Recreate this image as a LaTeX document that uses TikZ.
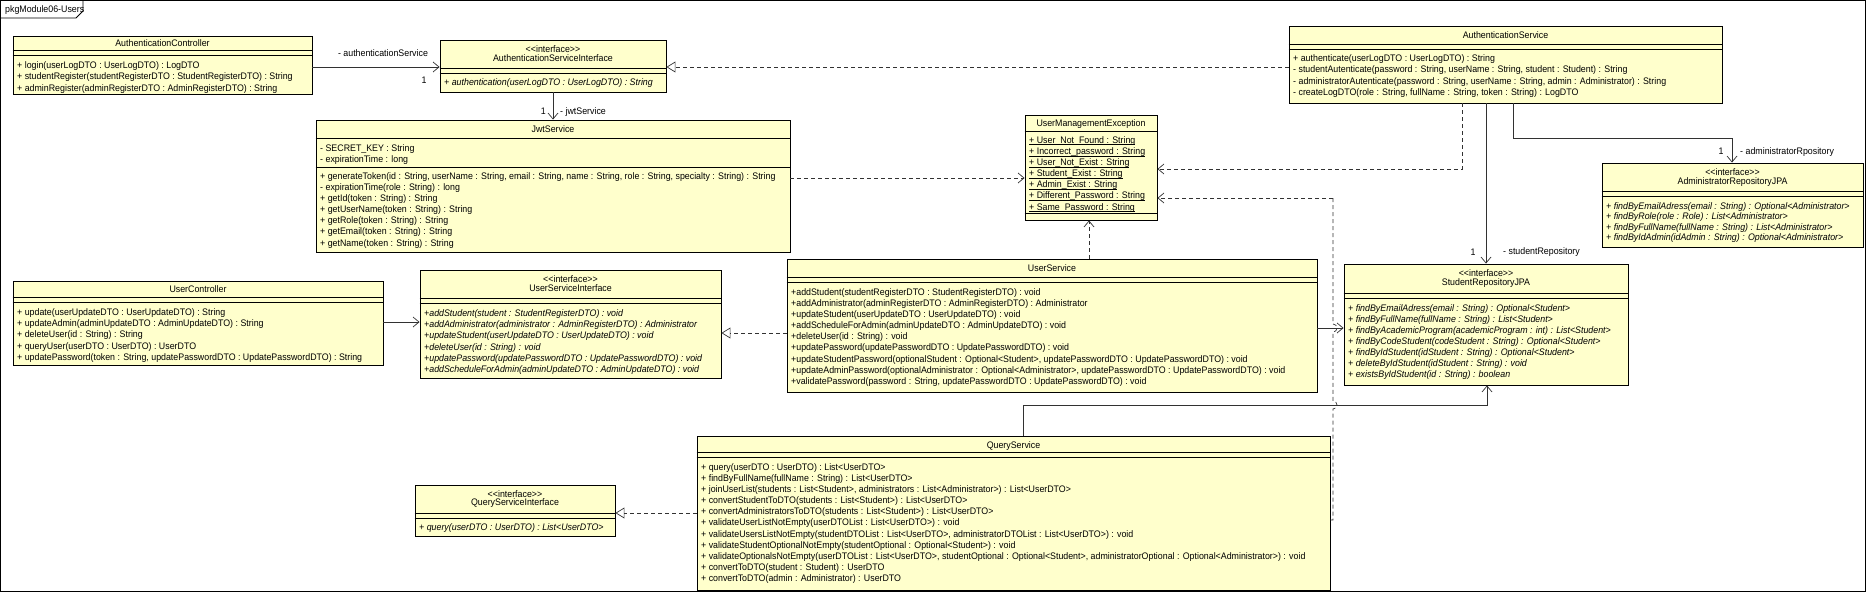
\documentclass[tikz,border=0pt]{standalone}
\usepackage{fontspec}
\setmainfont[FakeStretch=0.93]{Liberation Sans}
\usetikzlibrary{arrows.meta,fit,calc}
\definecolor{umlfill}{RGB}{255,255,204}
\definecolor{linec}{RGB}{50,50,50}
\newcommand{\ufont}{\fontsize{9.5}{11}\selectfont}
\newcommand{\umlcls}[5]{\node[cls, fit={(#2,#3)(#4,#5)}] (#1) {};}
\newcommand{\usep}[2]{\draw[sepl] (#1.west |- 0,#2) -- (#1.east |- 0,#2);}
\newcommand{\uttl}[4]{\node[ttl] (#1#2) at (#1.north |- 0,#3) {#4};}
\newcommand{\umem}[6]{\foreach \t [count=\i from 0] in {#6} {\node[#1] (#2\i) at (#3,{#4+\i*#5}) {\t};}}
\newcommand{\ulin}[1]{\setbox0\hbox{#1}\rlap{\rule[-1.6pt]{\wd0}{0.6pt}}\box0}
\newcommand{\stereo}{<{}<interface>{}>}
\tikzset{
  cls/.style={draw=black, fill=umlfill, line width=0.9pt, inner sep=0pt},
  sepl/.style={draw=black, line width=0.8pt},
  ttl/.style={inner sep=0pt, font=\ufont, text height=6.8pt, text depth=0pt, anchor=center},
  mtxt/.style={inner sep=0pt, font=\ufont, text height=6.8pt, text depth=0pt, anchor=west},
  itx/.style={mtxt, font=\ufont\itshape},
  lbl/.style={inner sep=0pt, font=\ufont, text height=6.8pt, text depth=0pt},
  con/.style={draw=linec, line width=0.7pt},
  assocl/.style={con, -{Straight Barb[length=6pt,width=10pt]}},
  depl/.style={con, dash pattern=on 4pt off 3pt, -{Straight Barb[length=6pt,width=10pt]}},
  reall/.style={con, dash pattern=on 4pt off 3pt, -{Triangle[open, length=9pt, width=11pt]}},
}
\begin{document}
\begin{tikzpicture}[x=1pt,y=-1pt]
\useasboundingbox (0,0) rectangle (1866,592);
% package frame
\draw[black, line width=0.8pt] (0.5,0.5) rectangle (1865.5,591.5);
\draw[black, line width=0.8pt] (0.5,18) -- (76,18) -- (83,11) -- (83,0.5);
\node[mtxt] (pkg) at (5,9) {pkgModule06-Users};

% AuthenticationController
\umlcls{ac}{13}{36}{312}{94}
\uttl{ac}{t}{43}{AuthenticationController}
\usep{ac}{50}\usep{ac}{55}
\umem{mtxt}{acm}{17}{65}{11.5}{{+ login(userLogDTO : UserLogDTO) : LogDTO},{+ studentRegister(studentRegisterDTO : StudentRegisterDTO) : String},{+ adminRegister(adminRegisterDTO : AdminRegisterDTO) : String}}

% AuthenticationServiceInterface
\umlcls{asi}{440}{40}{666}{92}
\uttl{asi}{s}{49}{\stereo}
\uttl{asi}{t}{58}{AuthenticationServiceInterface}
\usep{asi}{68}\usep{asi}{73}
\umem{itx}{asim}{444}{82}{11}{{+ authentication(userLogDTO : UserLogDTO) : String}}

% JwtService
\umlcls{jwt}{316}{120}{790}{252}
\uttl{jwt}{t}{129}{JwtService}
\usep{jwt}{138}\usep{jwt}{167}
\umem{mtxt}{jwta}{320}{148}{11}{{- SECRET\_KEY : String},{- expirationTime : long}}
\umem{mtxt}{jwtm}{320}{176}{11.1}{{+ generateToken(id : String, userName : String, email : String, name : String, role : String, specialty : String) : String},{- expirationTime(role : String) : long},{+ getId(token : String) : String},{+ getUserName(token : String) : String},{+ getRole(token : String) : String},{+ getEmail(token : String) : String},{+ getName(token : String) : String}}

% UserManagementException
\umlcls{ume}{1025}{115}{1157}{220}
\uttl{ume}{t}{123}{UserManagementException}
\usep{ume}{131}\usep{ume}{213}
\umem{mtxt}{umea}{1029}{140}{11.1}{{\ulin{+ User\_Not\_Found : String}},{\ulin{+ Incorrect\_password : String}},{\ulin{+ User\_Not\_Exist : String}},{\ulin{+ Student\_Exist : String}},{\ulin{+ Admin\_Exist : String}},{\ulin{+ Different\_Password : String}},{\ulin{+ Same\_Password : String}}}

% AuthenticationService
\umlcls{aus}{1289}{26}{1722}{103}
\uttl{aus}{t}{35}{AuthenticationService}
\usep{aus}{44}\usep{aus}{49}
\umem{mtxt}{ausm}{1293}{58}{11.5}{{+ authenticate(userLogDTO : UserLogDTO) : String},{- studentAutenticate(password : String, userName : String, student : Student) : String},{- administratorAutenticate(password : String, userName : String, admin : Administrator) : String},{- createLogDTO(role : String, fullName : String, token : String) : LogDTO}}

% AdministratorRepositoryJPA
\umlcls{ar}{1602}{163}{1863}{247}
\uttl{ar}{s}{172}{\stereo}
\uttl{ar}{t}{181}{AdministratorRepositoryJPA}
\usep{ar}{191}\usep{ar}{196}
\umem{itx}{arm}{1606}{206}{10.5}{{+ findByEmailAdress(email : String) : Optional<Administrator>},{+ findByRole(role : Role) : List<Administrator>},{+ findByFullName(fullName : String) : List<Administrator>},{+ findByIdAdmin(idAdmin : String) : Optional<Administrator>}}

% UserController
\umlcls{uc}{13}{281}{383}{365}
\uttl{uc}{t}{289}{UserController}
\usep{uc}{297}\usep{uc}{302}
\umem{mtxt}{ucm}{17}{312}{11.25}{{+ update(userUpdateDTO : UserUpdateDTO) : String},{+ updateAdmin(adminUpdateDTO : AdminUpdateDTO) : String},{+ deleteUser(id : String) : String},{+ queryUser(userDTO : UserDTO) : UserDTO},{+ updatePassword(token : String, updatePasswordDTO : UpdatePasswordDTO) : String}}

% UserServiceInterface
\umlcls{usi}{420}{270}{721}{378}
\uttl{usi}{s}{279}{\stereo}
\uttl{usi}{t}{288}{UserServiceInterface}
\usep{usi}{298}\usep{usi}{303}
\umem{itx}{usim}{424}{313}{11.2}{{+addStudent(student : StudentRegisterDTO) : void},{+addAdministrator(administrator : AdminRegisterDTO) : Administrator},{+updateStudent(userUpdateDTO : UserUpdateDTO) : void},{+deleteUser(id : String) : void},{+updatePassword(updatePasswordDTO : UpdatePasswordDTO) : void},{+addScheduleForAdmin(adminUpdateDTO : AdminUpdateDTO) : void}}

% UserService
\umlcls{us}{787}{259}{1317}{392}
\uttl{us}{t}{268}{UserService}
\usep{us}{277}\usep{us}{282}
\umem{mtxt}{usm}{791}{292}{11.1}{{+addStudent(studentRegisterDTO : StudentRegisterDTO) : void},{+addAdministrator(adminRegisterDTO : AdminRegisterDTO) : Administrator},{+updateStudent(userUpdateDTO : UserUpdateDTO) : void},{+addScheduleForAdmin(adminUpdateDTO : AdminUpdateDTO) : void},{+deleteUser(id : String) : void},{+updatePassword(updatePasswordDTO : UpdatePasswordDTO) : void},{+updateStudentPassword(optionalStudent : Optional<Student>, updatePasswordDTO : UpdatePasswordDTO) : void},{+updateAdminPassword(optionalAdministrator : Optional<Administrator>, updatePasswordDTO : UpdatePasswordDTO) : void},{+validatePassword(password : String, updatePasswordDTO : UpdatePasswordDTO) : void}}

% StudentRepositoryJPA
\umlcls{sr}{1344}{264}{1628}{385}
\uttl{sr}{s}{273}{\stereo}
\uttl{sr}{t}{282}{StudentRepositoryJPA}
\usep{sr}{293}\usep{sr}{298}
\umem{itx}{srm}{1348}{308}{11}{{+ findByEmailAdress(email : String) : Optional<Student>},{+ findByFullName(fullName : String) : List<Student>},{+ findByAcademicProgram(academicProgram : int) : List<Student>},{+ findByCodeStudent(codeStudent : String) : Optional<Student>},{+ findByIdStudent(idStudent : String) : Optional<Student>},{+ deleteByIdStudent(idStudent : String) : void},{+ existsByIdStudent(id : String) : boolean}}

% QueryService
\umlcls{qs}{697}{436}{1330}{590}
\uttl{qs}{t}{445}{QueryService}
\usep{qs}{452}\usep{qs}{457}
\umem{mtxt}{qsm}{701}{467}{11.1}{{+ query(userDTO : UserDTO) : List<UserDTO>},{+ findByFullName(fullName : String) : List<UserDTO>},{+ joinUserList(students : List<Student>, administrators : List<Administrator>) : List<UserDTO>},{+ convertStudentToDTO(students : List<Student>) : List<UserDTO>},{+ convertAdministratorsToDTO(students : List<Student>) : List<UserDTO>},{+ validateUserListNotEmpty(userDTOList : List<UserDTO>) : void},{+ validateUsersListNotEmpty(studentDTOList : List<UserDTO>, administratorDTOList : List<UserDTO>) : void},{+ validateStudentOptionalNotEmpty(studentOptional : Optional<Student>) : void},{+ validateOptionalsNotEmpty(userDTOList : List<UserDTO>, studentOptional : Optional<Student>, administratorOptional : Optional<Administrator>) : void},{+ convertToDTO(student : Student) : UserDTO},{+ convertToDTO(admin : Administrator) : UserDTO}}

% QueryServiceInterface
\umlcls{qsi}{415}{485}{615}{536}
\uttl{qsi}{s}{494}{\stereo}
\uttl{qsi}{t}{502}{QueryServiceInterface}
\usep{qsi}{513}\usep{qsi}{518}
\umem{itx}{qsim}{419}{527}{11}{{+ query(userDTO : UserDTO) : List<UserDTO>}}

% ---- connectors ----
\draw[assocl] (ac.east |- 0,67) -- (asi.west |- 0,67);
\node[lbl] (l1) at (383,53) {- authenticationService};
\node[lbl] (l2) at (424,80) {1};
\draw[reall] (aus.west |- 0,67) -- (asi.east |- 0,67);
\draw[assocl] (asi.south) -- (jwt.north -| asi.south);
\node[lbl, anchor=east] (l3) at (546,111) {1};
\node[lbl, anchor=west] (l4) at (560,111) {- jwtService};
\draw[depl] (jwt.east |- 0,178) -- (ume.west |- 0,178);
\draw[depl] (aus.south -| 1462,0) |- (ume.east |- 0,169);
\draw[depl] (us.north -| 1089,0) -- (ume.south -| 1089,0);
\coordinate (qj) at (1333,520);
\draw[con, dash pattern=on 4pt off 3pt] (qs.east |- qj) -- (qj) -- (1333,409) arc[start angle=-90, end angle=90, radius=4pt] -- (1333,332) arc[start angle=-90, end angle=90, radius=4pt] -- (1333,198) coordinate (qk);
\draw[depl] (qk) -- (ume.east |- qk);
\draw[assocl] (aus.south -| 1486,0) -- (sr.north -| 1486,0);
\node[lbl] (l5) at (1473,252) {1};
\node[lbl, anchor=west] (l6) at (1503,251) {- studentRepository};
\draw[assocl] (aus.south -| 1513,0) |- (1732,138) -- (ar.north -| 1732,0);
\node[lbl] (l7) at (1721,151) {1};
\node[lbl, anchor=west] (l8) at (1740,151) {- administratorRpository};
\draw[assocl] (us.east |- 0,328) -- (sr.west |- 0,328);
\draw[assocl] (qs.north -| 1023,0) |- (1487,405) -- (sr.south -| 1487,0);
\draw[assocl] (uc.east |- 0,322) -- (usi.west |- 0,322);
\draw[reall] (us.west |- 0,333) -- (usi.east |- 0,333);
\draw[reall] (qs.west |- 0,513) -- (qsi.east |- 0,513);
\end{tikzpicture}
\end{document}
